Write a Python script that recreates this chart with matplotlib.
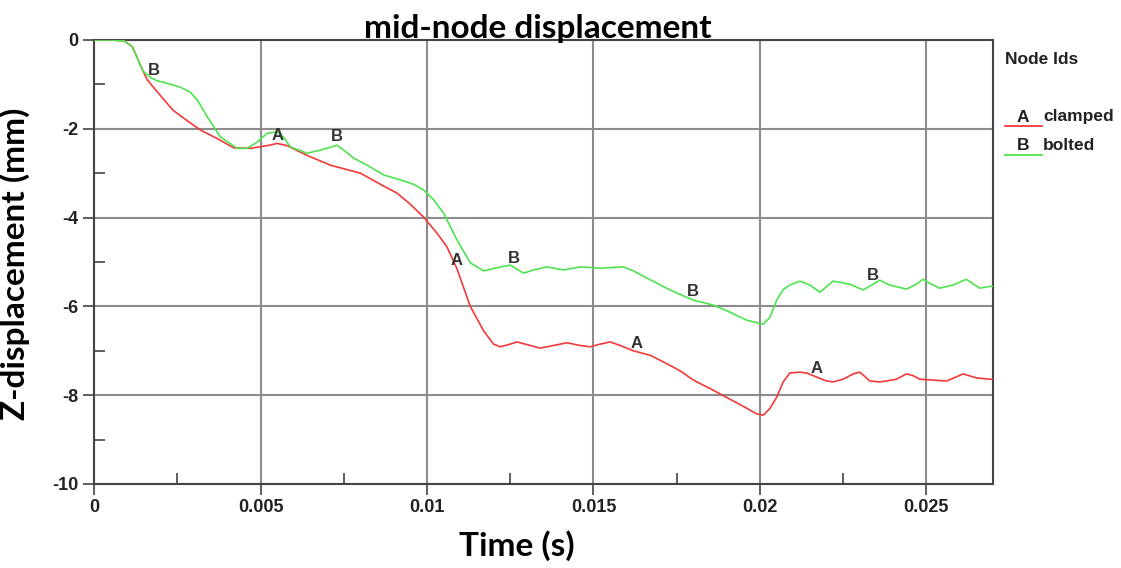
import numpy as np
import matplotlib
matplotlib.use("Agg")
import matplotlib.pyplot as plt
from matplotlib.lines import Line2D
from matplotlib.ticker import MultipleLocator

plt.rcParams['font.family'] = ['Liberation Sans Narrow', 'Liberation Sans', 'DejaVu Sans']

# time history of mid-node z displacement (mm)
t_clamped = [0, 0.0005, 0.0009, 0.00115, 0.00147, 0.0016, 0.00198, 0.00237, 0.0028,
             0.0032, 0.0037, 0.0042, 0.0047, 0.0052, 0.0055, 0.0058, 0.0064, 0.0071,
             0.0080, 0.0086, 0.0091, 0.0095, 0.0099, 0.0103, 0.0106, 0.0109, 0.0113,
             0.0117, 0.0120, 0.0122, 0.0125, 0.0127, 0.0130, 0.0134, 0.0138, 0.0142,
             0.0146, 0.0149, 0.0152, 0.0155, 0.0158, 0.0162, 0.0167, 0.0171, 0.0176,
             0.0180, 0.0185, 0.0190, 0.0195, 0.0199, 0.0201, 0.0203, 0.0205, 0.0207,
             0.0209, 0.0212, 0.0214, 0.0217, 0.0220, 0.0222, 0.0225, 0.0228, 0.0230,
             0.0233, 0.0236, 0.0238, 0.0241, 0.0244, 0.0246, 0.0248, 0.0252, 0.0256,
             0.0258, 0.0261, 0.0265, 0.0269, 0.0270]
z_clamped = [0, 0, -0.02, -0.15, -0.7, -0.9, -1.24, -1.58, -1.82,
             -2.03, -2.22, -2.43, -2.44, -2.38, -2.33, -2.38, -2.6, -2.82,
             -3.0, -3.25, -3.45, -3.7, -3.99, -4.35, -4.66, -5.15, -6.0,
             -6.55, -6.85, -6.91, -6.85, -6.80, -6.86, -6.94, -6.88, -6.82,
             -6.88, -6.91, -6.85, -6.80, -6.88, -7.0, -7.1, -7.25, -7.45,
             -7.66, -7.85, -8.05, -8.25, -8.42, -8.45, -8.3, -8.05, -7.7,
             -7.5, -7.48, -7.5, -7.59, -7.68, -7.70, -7.64, -7.52, -7.48,
             -7.68, -7.70, -7.68, -7.64, -7.52, -7.56, -7.64, -7.66, -7.68,
             -7.62, -7.52, -7.61, -7.64, -7.64]

t_bolted = [0, 0.0005, 0.0009, 0.00115, 0.00147, 0.0017, 0.0019, 0.00207, 0.00258,
            0.00288, 0.0031, 0.0034, 0.00379, 0.0043, 0.0046, 0.0049, 0.0052, 0.0055,
            0.0057, 0.0059, 0.0064, 0.0068, 0.0073, 0.0075, 0.0078, 0.0082, 0.0087,
            0.0092, 0.0096, 0.0099, 0.0102, 0.0105, 0.0109, 0.0113, 0.0117, 0.0121,
            0.0125, 0.0129, 0.0132, 0.0136, 0.0141, 0.0146, 0.0152, 0.0159, 0.0162,
            0.0166, 0.0173, 0.0180, 0.0186, 0.0191, 0.0196, 0.0201, 0.0203, 0.0205,
            0.0207, 0.0209, 0.0212, 0.0215, 0.0218, 0.0222, 0.0227, 0.0231, 0.0234,
            0.0236, 0.0239, 0.0244, 0.0247, 0.0249, 0.0251, 0.0254, 0.0258, 0.0262,
            0.0266, 0.0269, 0.0270]
z_bolted = [0, 0, -0.02, -0.15, -0.7, -0.85, -0.92, -0.95, -1.06,
            -1.17, -1.35, -1.73, -2.18, -2.44, -2.44, -2.3, -2.1, -2.07,
            -2.2, -2.41, -2.55, -2.48, -2.37, -2.48, -2.66, -2.82, -3.04,
            -3.15, -3.25, -3.38, -3.6, -3.9, -4.5, -5.02, -5.2, -5.13,
            -5.07, -5.25, -5.18, -5.11, -5.18, -5.11, -5.14, -5.11, -5.2,
            -5.36, -5.63, -5.86, -5.97, -6.13, -6.31, -6.4, -6.25, -5.86,
            -5.62, -5.52, -5.43, -5.52, -5.68, -5.43, -5.5, -5.63, -5.5,
            -5.41, -5.52, -5.61, -5.5, -5.39, -5.48, -5.59, -5.52, -5.39,
            -5.59, -5.55, -5.55]

# where the curve id letters sit along each curve
mark_t_clamped = [0.0055, 0.0109, 0.0163, 0.0217]
mark_t_bolted = [0.0018, 0.0073, 0.0126, 0.0180, 0.0234]

red = '#f23a3a'
green = '#4fe34f'
gridc = '#8c8c8c'
bold_font = ['Lato', 'DejaVu Sans']

fig = plt.figure(figsize=(11.21, 5.68), dpi=100)
ax = fig.add_axes([0.0839, 0.1479, 0.8019, 0.7817])

ax.plot(t_clamped, z_clamped, color=red, lw=1.2, zorder=3)
ax.plot(t_bolted, z_bolted, color=green, lw=1.2, zorder=3)

for tt in mark_t_clamped:
    ax.annotate('A', (tt, np.interp(tt, t_clamped, z_clamped)), xytext=(0, 6),
                textcoords='offset points', ha='center', va='center',
                fontsize=12, fontweight='bold', color='#333333', zorder=4)
for tt in mark_t_bolted:
    ax.annotate('B', (tt, np.interp(tt, t_bolted, z_bolted)), xytext=(0, 6),
                textcoords='offset points', ha='center', va='center',
                fontsize=12, fontweight='bold', color='#333333', zorder=4)

ax.set_xlim(0, 0.027)
ax.set_ylim(-10, 0)
ax.xaxis.set_minor_locator(MultipleLocator(0.0025))
ax.yaxis.set_minor_locator(MultipleLocator(1))
ax.set_yticks([0, -2, -4, -6, -8, -10])
ax.set_yticklabels(['0', '-2', '-4', '-6', '-8', '-10'])
ax.set_xticks(np.arange(0, 0.0270, 0.005))
ax.set_xticklabels(['0', '0.005', '0.01', '0.015', '0.02', '0.025'])

ax.grid(True, which='major', color=gridc, lw=1.5, zorder=1)
ax.tick_params(which='major', direction='out', length=8, width=1.2,
               color='#444444', labelsize=13, pad=3)
ax.tick_params(which='minor', direction='in', length=8, width=1.2, color='#444444')
for lab in ax.get_xticklabels() + ax.get_yticklabels():
    lab.set_fontweight('bold')
    lab.set_color('#222222')
for sp in ax.spines.values():
    sp.set_color('#444444')
    sp.set_linewidth(1.5)

ax.set_xlabel('Time (s)', fontsize=24, fontweight='bold', family=bold_font)
ax.xaxis.set_label_coords(0.47, -0.105)
ax.set_ylabel('Z-displacement (mm)', fontsize=24, fontweight='bold', family=bold_font)
ax.yaxis.set_label_coords(-0.071, 0.495)
fig.text(538 / 1121, 1 - 38 / 568, 'mid-node displacement', ha='center', va='baseline',
         fontsize=24, fontweight='bold', family=bold_font)

# legend block on the right
fig.text(1005 / 1121, 1 - 60 / 568, 'Node Ids', ha='left', va='center',
         fontsize=12.5, fontweight='bold', color='#222222')
for y, letter, name, c in [(117, 'A', 'clamped', red), (146, 'B', 'bolted', green)]:
    fig.text(1017 / 1121, 1 - y / 568, letter, ha='left', va='center',
             fontsize=12.5, fontweight='bold', color='#222222')
    fig.text(1043 / 1121, 1 - y / 568, name, ha='left', va='center',
             fontsize=12.5, fontweight='bold', color='#222222')
    fig.add_artist(Line2D([1005 / 1121, 1042 / 1121], [1 - (y + 9) / 568] * 2,
                          color=c, lw=1.3, transform=fig.transFigure))

fig.savefig('out.png', dpi=100)
